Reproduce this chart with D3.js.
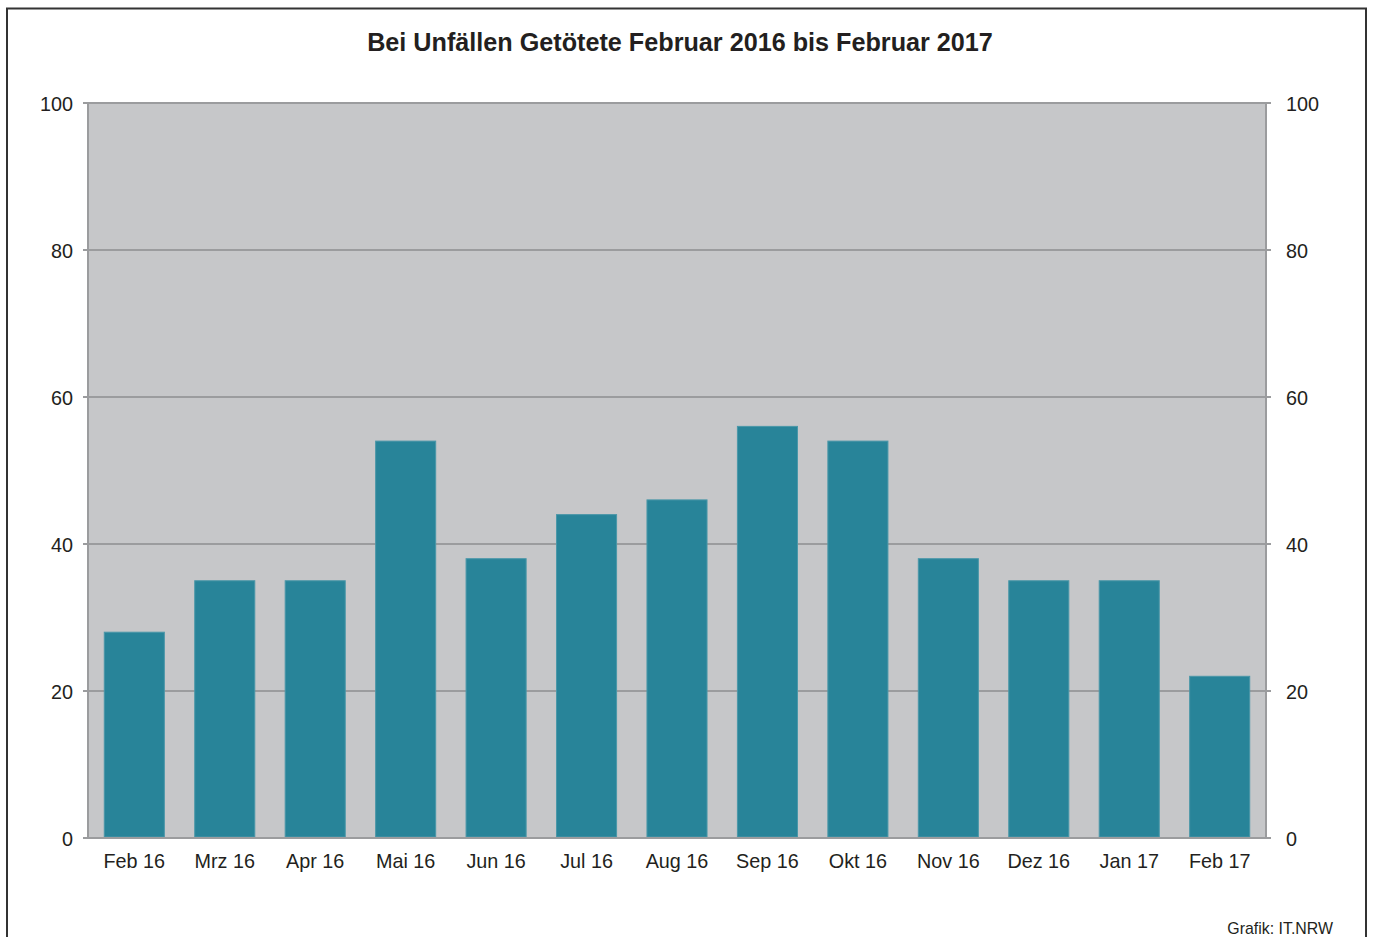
<!DOCTYPE html>
<html><head><meta charset="utf-8">
<script src="https://cdn.jsdelivr.net/npm/d3@7"></script>
<style>body{margin:0;background:#fff;}svg{display:block;font-family:"Liberation Sans",Arial,sans-serif;}</style>
</head><body>
<svg id="c" width="1373" height="937"></svg>
<script>
const categories = ["Feb 16","Mrz 16","Apr 16","Mai 16","Jun 16","Jul 16","Aug 16","Sep 16","Okt 16","Nov 16","Dez 16","Jan 17","Feb 17"];
const values = [28,35,35,54,38,44,46,56,54,38,35,35,22];
const yTicks = [0,20,40,60,80,100];
const title = "Bei Unfällen Getötete Februar 2016 bis Februar 2017";
const credit = "Grafik: IT.NRW";

const svg = d3.select("#c");
// outer frame
svg.append("path").attr("d","M7,937 V8.5 H1366 V937").attr("fill","none").attr("stroke","#333").attr("stroke-width",2);

const L=88, R=1266, T=103, B=838;
const x = d3.scaleBand().domain(categories).range([L,R]).paddingInner(0.336).paddingOuter(0.18);
const y = d3.scaleLinear().domain([0,100]).range([B,T]);

svg.append("rect").attr("x",L).attr("y",T).attr("width",R-L).attr("height",B-T).attr("fill","#c6c7c9");

// grid
svg.append("g").selectAll("line").data(yTicks).join("line")
  .attr("x1",L-5).attr("x2",R+5).attr("y1",d=>y(d)).attr("y2",d=>y(d))
  .attr("stroke","#9b9c9e").attr("stroke-width",2);
// vertical axis lines
svg.append("line").attr("x1",L).attr("x2",L).attr("y1",T).attr("y2",B).attr("stroke","#9b9c9e").attr("stroke-width",2);
svg.append("line").attr("x1",R).attr("x2",R).attr("y1",T).attr("y2",B).attr("stroke","#9b9c9e").attr("stroke-width",2);

// bars
svg.append("g").selectAll("rect").data(values).join("rect")
  .attr("x",(d,i)=>x(categories[i])).attr("width",x.bandwidth())
  .attr("y",d=>y(d)).attr("height",d=>B-y(d)-1)
  .attr("fill","#288499").attr("stroke","#4a97a8").attr("stroke-width",1);

// redraw baseline on top
svg.append("line").attr("x1",L-5).attr("x2",R+5).attr("y1",B).attr("y2",B).attr("stroke","#9b9c9e").attr("stroke-width",2);

// axes (text only via d3 axis)
const axL = svg.append("g").attr("transform",`translate(${L-15},0)`).call(d3.axisLeft(y).tickValues(yTicks).tickSize(0).tickPadding(0));
const axR = svg.append("g").attr("transform",`translate(${R+20},0)`).call(d3.axisRight(y).tickValues(yTicks).tickSize(0).tickPadding(0));
const axB = svg.append("g").attr("transform",`translate(0,${B+11})`).call(d3.axisBottom(x).tickSize(0).tickPadding(0));
[axL,axR,axB].forEach(a=>{a.select(".domain").remove();a.selectAll("text").attr("font-size",19.8).attr("fill","#231f20").attr("font-family","'Liberation Sans',Arial,sans-serif");});
axL.selectAll("text").attr("dy","0.36em");
axR.selectAll("text").attr("dy","0.36em");
axB.selectAll("text").attr("dy","0.95em");

svg.append("text").attr("x",680).attr("y",51).attr("text-anchor","middle").attr("font-size",25.2).attr("font-weight","bold").attr("fill","#231f20").text(title);
svg.append("text").attr("x",1333).attr("y",934).attr("text-anchor","end").attr("font-size",15.9).attr("fill","#231f20").text(credit);
</script>
</body></html>
